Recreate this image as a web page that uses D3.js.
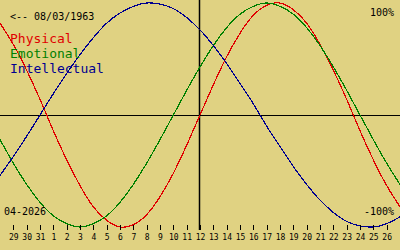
<!DOCTYPE html>
<html>
<head>
<meta charset="utf-8">
<script src="https://cdnjs.cloudflare.com/ajax/libs/d3/7.8.5/d3.min.js"></script>
<style>
  html, body { margin: 0; padding: 0; background: #e0d282; }
  svg { display: block; }
  text { font-family: "DejaVu Sans Mono", monospace; fill: #000; }
</style>
</head>
<body>
<svg id="chart"></svg>
<script>
// days shown on the axis (Mar 29 .. Apr 26)
var dayLabels = ["29","30","31","1","2","3","4","5","6","7","8","9","10","11","12",
  "13","14","15","16","17","18","19","20","21","22","23","24","25","26"];

// one value per day, starting one day before the first label and ending one after the last
var physical = [0.82, 0.63, 0.40, 0.14, -0.14, -0.40, -0.63, -0.82, -0.94, -1.00, -0.98,
  -0.89, -0.73, -0.52, -0.27, 0, 0.27, 0.52, 0.73, 0.89, 0.98, 1.00, 0.94, 0.82, 0.63,
  0.40, 0.14, -0.14, -0.40, -0.63, -0.82];
var emotional = [-0.22, -0.43, -0.62, -0.78, -0.90, -0.97, -1.00, -0.97, -0.90, -0.78,
  -0.62, -0.43, -0.22, 0, 0.22, 0.43, 0.62, 0.78, 0.90, 0.97, 1.00, 0.97, 0.90, 0.78,
  0.62, 0.43, 0.22, 0, -0.22, -0.43, -0.62];
var intellectual = [-0.54, -0.37, -0.19, 0, 0.19, 0.37, 0.54, 0.69, 0.82, 0.91, 0.97,
  1.00, 0.99, 0.95, 0.87, 0.76, 0.62, 0.46, 0.28, 0.10, -0.10, -0.28, -0.46, -0.62,
  -0.76, -0.87, -0.95, -0.99, -1.00, -0.97, -0.91];

var birthLabel = "<-- 08/03/1963";
var monthLabel = "04-2026";
var todayIndex = 14; // "12" in dayLabels

var width = 400, height = 250;

var svg = d3.select("#chart")
  .attr("width", width)
  .attr("height", height);

var x = d3.scaleLinear().domain([-1, 29]).range([0, width]);
var y = d3.scaleLinear().domain([-1, 1]).range([227, 3]);

// center + today lines
svg.append("line")
  .attr("x1", 0).attr("x2", width)
  .attr("y1", y(0) + 0.5).attr("y2", y(0) + 0.5)
  .attr("stroke", "#000").attr("stroke-width", 1);
svg.append("line")
  .attr("x1", Math.round(x(todayIndex)) - 0.5).attr("x2", Math.round(x(todayIndex)) - 0.5)
  .attr("y1", 0).attr("y2", 230)
  .attr("stroke", "#000").attr("stroke-width", 1.5);

var line = d3.line()
  .x(function(d, i) { return x(i - 1); })
  .y(function(d) { return y(d); })
  .curve(d3.curveNatural);

var series = [
  {name: "Physical", values: physical, color: "#e00000"},
  {name: "Emotional", values: emotional, color: "#008000"},
  {name: "Intellectual", values: intellectual, color: "#000090"}
];

series.forEach(function(s) {
  svg.append("path")
    .datum(s.values)
    .attr("d", line)
    .attr("fill", "none")
    .attr("stroke", s.color)
    .attr("stroke-width", 1.2)
    .attr("shape-rendering", "crispEdges");
});

// day axis
var axis = d3.axisBottom(x)
  .tickValues(d3.range(dayLabels.length))
  .tickSize(5)
  .tickPadding(4)
  .tickFormat(function(i) { return dayLabels[i]; });

var g = svg.append("g")
  .attr("transform", "translate(0,225)")
  .call(axis);
g.select(".domain").remove();
g.selectAll(".tick line").attr("stroke", "#000").attr("shape-rendering", "crispEdges");
g.selectAll(".tick text")
  .style("font-family", "'DejaVu Sans Mono', monospace")
  .style("font-size", "8px")
  .attr("fill", "#000");

// labels
svg.append("text").attr("x", 10).attr("y", 20)
  .style("font-size", "10px").text(birthLabel);
svg.append("text").attr("x", 394).attr("y", 16).attr("text-anchor", "end")
  .style("font-size", "10px").text("100%");
svg.append("text").attr("x", 394).attr("y", 215).attr("text-anchor", "end")
  .style("font-size", "10px").text("-100%");
svg.append("text").attr("x", 4).attr("y", 215)
  .style("font-size", "10px").text(monthLabel);

series.forEach(function(s, i) {
  svg.append("text")
    .attr("x", 10).attr("y", 43 + i * 15)
    .style("font-size", "13px")
    .style("fill", s.color)
    .text(s.name);
});
</script>
</body>
</html>
